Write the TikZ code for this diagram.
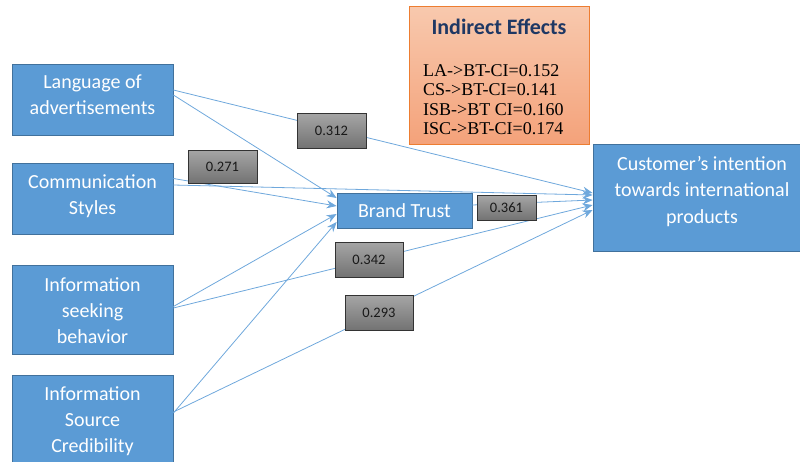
\documentclass[tikz,border=0pt]{standalone}
\usepackage{fontspec}
\setmainfont{Carlito}
\newfontfamily\timesf{Liberation Serif}
\usetikzlibrary{arrows.meta,calc}
\definecolor{boxblue}{HTML}{5B9BD5}
\definecolor{boxedge}{HTML}{41719C}
\definecolor{linkblue}{HTML}{6FA8DC}
\definecolor{navy}{HTML}{1F3864}
\definecolor{orlight}{HTML}{F8C9AE}
\definecolor{ordark}{HTML}{F4A27A}
\definecolor{oredge}{HTML}{ED7D31}
\tikzset{
  var/.style={draw=boxedge, line width=0.8pt, fill=boxblue, inner sep=0pt},
  vartext/.style={text=white, align=center, inner sep=0pt, font=\fontsize{20}{26}\selectfont},
  wlabel/.style={draw=black!80, line width=0.8pt, top color=black!35, bottom color=black!55,
    text=black!90, inner sep=0pt, font=\fontsize{14.5}{16}\selectfont},
  link/.style={draw=linkblue, line width=0.8pt, -{Stealth[length=10pt,width=8pt]}}
}
\begin{document}
\begin{tikzpicture}[x=1pt,y=-1pt]
\useasboundingbox (0,0) rectangle (800,461);
% variable boxes
\node[var, minimum width=161pt, minimum height=71pt] (LA) at (92.5,99.5) {};
\node[vartext] (LAt) at (92.5,94.5) {Language of\\advertisements};
\node[var, minimum width=161pt, minimum height=71pt] (CS) at (92.5,198.5) {};
\node[vartext] (CSt) at (92.5,196) {Communication\\Styles};
\node[var, minimum width=161pt, minimum height=89pt] (ISB) at (92.5,309.5) {};
\node[vartext] (ISBt) at (92.5,311) {Information\\seeking\\behavior};
\node[var, minimum width=161pt, minimum height=92pt] (ISC) at (92.5,421) {};
\node[vartext] (ISCt) at (92.5,421.5) {Information\\Source\\Credibility};
\node[var, minimum width=135pt, minimum height=35pt] (BT) at (404.5,210.5) {};
\node[vartext] (BTt) at (404.5,211) {Brand Trust};
\node[var, minimum width=218pt, minimum height=107pt] (CI) at (702,197.5) {};
\node[vartext, font=\fontsize{20}{26.5}\selectfont] (CIt) at (702,191.5) {Customer’s intention\\towards international\\products};
% indirect effects
\node[draw=oredge, line width=0.8pt, top color=orlight, bottom color=ordark,
  minimum width=180pt, minimum height=138pt, inner sep=0pt] (IE) at (499,75) {};
\node[font=\fontsize{22}{24}\selectfont\bfseries, text=navy] (IEt) at (499,27) {Indirect Effects};
\node[font=\timesf\fontsize{18}{19.6}\selectfont, align=left, anchor=north west, inner sep=0pt] (IEb) at (423,64)
  {LA->BT-CI=0.152\\CS->BT-CI=0.141\\ISB->BT CI=0.160\\ISC->BT-CI=0.174};
% connectors to Brand Trust
\draw[link] ([yshift=4.5pt]LA.east) -- ([yshift=12.5pt]BT.west);
\draw[link] ([yshift=20pt]CS.east) -- ([yshift=4.5pt]BT.west);
\draw[link] ([yshift=3pt]ISB.east) -- ([yshift=-3.5pt]BT.west);
\draw[link] ([yshift=8pt]ISC.east) -- ([yshift=-11.5pt]BT.west);
% connectors to Customer's intention
\draw[link] ([yshift=9.5pt]LA.east) -- ([yshift=4.5pt]CI.west);
\draw[link] ([yshift=13.5pt]CS.east) -- ([yshift=2.5pt]CI.west);
\draw[link] ([yshift=5.5pt]BT.east) -- ([yshift=-2.5pt]CI.west);
\draw[link] ([yshift=1.5pt]ISB.east) -- ([yshift=-7.5pt]CI.west);
\draw[link] ([yshift=9pt]ISC.east) -- ([yshift=-12.5pt]CI.west);
% path coefficients
\node[wlabel, minimum width=69pt, minimum height=35pt] (w312) at (331.5,130.5) {0.312};
\node[wlabel, minimum width=69pt, minimum height=33pt] (w271) at (222.5,166.5) {0.271};
\node[wlabel, minimum width=59pt, minimum height=25pt] (w361) at (506.5,207.5) {0.361};
\node[wlabel, minimum width=68pt, minimum height=35pt] (w342) at (369,259.5) {0.342};
\node[wlabel, minimum width=68pt, minimum height=35pt] (w293) at (379,312.5) {0.293};
\end{tikzpicture}
\end{document}
